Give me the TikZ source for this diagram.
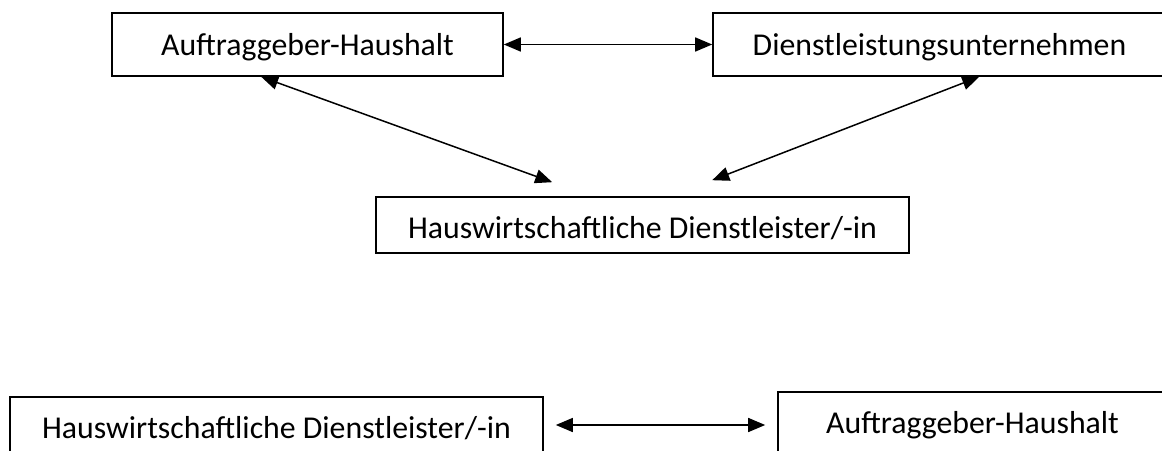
\documentclass[tikz,border=0pt]{standalone}
\usepackage{fontspec}
\setmainfont{Carlito}
\usetikzlibrary{arrows.meta}
\begin{document}
\begin{tikzpicture}[x=1pt,y=-1pt,
  box/.style={draw, line width=1.6pt, rectangle, inner sep=0pt, anchor=base,
    font=\fontsize{31.8}{38}\selectfont},
  arr/.style={line width=1.5pt, {Triangle[length=17pt,width=14pt]}-{Triangle[length=17pt,width=14pt]}}]
\useasboundingbox (0,0) rectangle (1162,450);
\node[box, minimum width=391pt, text height=42pt, text depth=21pt] (b1) at (307.5,55) {Auftraggeber-Haushalt};
\node[box, minimum width=453pt, text height=42pt, text depth=21pt] (b2) at (939.5,55) {Dienstleistungsunternehmen};
\node[box, minimum width=533pt, text height=41pt, text depth=15pt] (b3) at (642.5,238) {Hauswirtschaftliche Dienstleister/-in};
\node[box, minimum width=533pt, text height=41pt, text depth=15pt] (b4) at (276.5,438) {Hauswirtschaftliche Dienstleister/-in};
\node[box, minimum width=389pt, text height=41pt, text depth=30pt] (b5) at (972.5,433) {Auftraggeber-Haushalt};
\draw[arr] (b1.east) -- (b2.west);
\draw[arr] ([xshift=150pt]b1.south west) -- ([xshift=177pt,yshift=14pt]b3.north west);
\draw[arr] ([xshift=267pt]b2.south west) -- ([xshift=337pt,yshift=16pt]b3.north west);
\draw[arr] ([xshift=12pt]b4.east) -- ([xshift=-12pt,yshift=2.5pt]b5.west);
\end{tikzpicture}
\end{document}
